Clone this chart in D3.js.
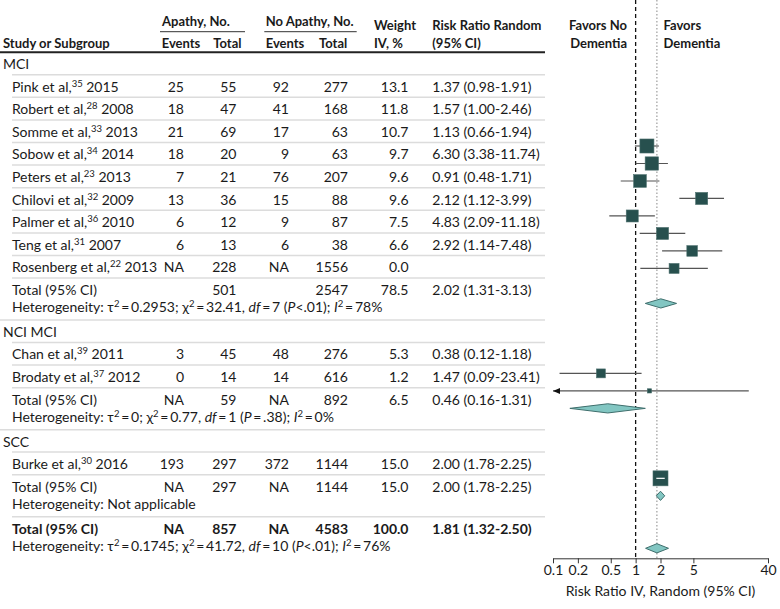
<!DOCTYPE html>
<html><head><meta charset="utf-8">
<script src="https://cdn.jsdelivr.net/npm/d3@7"></script>
<style>
body{margin:0;background:#fff}
svg{display:block}
text{font-family:Lato,"Open Sans",sans-serif;font-size:14px;fill:#1a1a1a}
.b{font-weight:bold}
.h{font-size:13px}
</style>
</head><body>
<svg id="c" width="780" height="609"></svg>
<script>
// ---------- DATA ----------
const studyNames = ["Pink et al,", "Robert et al,", "Somme et al,", "Sobow et al,", "Peters et al,", "Chilovi et al,", "Palmer et al,", "Teng et al,", "Rosenberg et al,", "Chan et al,", "Brodaty et al,", "Burke et al,"];
const studyRefs = ["35", "28", "33", "34", "23", "32", "36", "31", "22", "39", "37", "30"];
const studyYears = ["2015", "2008", "2013", "2014", "2013", "2009", "2010", "2007", "2013", "2011", "2012", "2016"];
const studyGroup = ["MCI", "MCI", "MCI", "MCI", "MCI", "MCI", "MCI", "MCI", "MCI", "NCI MCI", "NCI MCI", "SCC"];
const apathyEvents = ["25", "18", "21", "18", "7", "13", "6", "6", "NA", "3", "0", "193"];
const apathyTotal = ["55", "47", "69", "20", "21", "36", "12", "13", "228", "45", "14", "297"];
const noApathyEvents = ["92", "41", "17", "9", "76", "15", "9", "6", "NA", "48", "14", "372"];
const noApathyTotal = ["277", "168", "63", "63", "207", "88", "87", "38", "1556", "276", "616", "1144"];
const weights = [13.1, 11.8, 10.7, 9.7, 9.6, 9.6, 7.5, 6.6, 0.0, 5.3, 1.2, 15.0];
const riskRatio = [1.37, 1.57, 1.13, 6.30, 0.91, 2.12, 4.83, 2.92, null, 0.38, 1.47, 2.00];
const ciLow = [0.98, 1.00, 0.66, 3.38, 0.48, 1.12, 2.09, 1.14, null, 0.12, 0.09, 1.78];
const ciHigh = [1.91, 2.46, 1.94, 11.74, 1.71, 3.99, 11.18, 7.48, null, 1.18, 23.41, 2.25];

const groups = ["MCI", "NCI MCI", "SCC"];
const groupApathyEvents = ["", "NA", "NA"];
const groupApathyTotal = ["501", "59", "297"];
const groupNoApathyEvents = ["", "NA", "NA"];
const groupNoApathyTotal = ["2547", "892", "1144"];
const groupWeights = [78.5, 6.5, 15.0];
const groupRR = [2.02, 0.46, 2.00];
const groupLow = [1.31, 0.16, 1.78];
const groupHigh = [3.13, 1.31, 2.25];
const groupTau2 = ["0.2953", "0", null];
const groupChi2 = ["32.41", "0.77", null];
const groupDf = ["7", "1", null];
const groupP = ["<.01", "\u2009=\u2009.38", null];
const groupI2 = ["78%", "0%", null];

const overall = {apE: "NA", apT: "857", noE: "NA", noT: "4583", weight: 100.0, rr: 1.81, lo: 1.32, hi: 2.50,
                 tau2: "0.1745", chi2: "41.72", df: "10", p: "<.01", i2: "76%"};

const axisTicks = [0.1, 0.2, 0.5, 1, 2, 5, 40];

(function () {
// ---------- LAYOUT ----------
const svg = d3.select("#c");
const TABLE_RIGHT = 545;
const HEAD_RULE = 52.3, GROUP_H = 22.4, ROW_H = 22.6, TOTAL_H = 42;
const col = {study: 12, apE: 184, apT: 236.5, noE: 289, noT: 348, wt: 408.5, rr: 432.3};
const fmtRR = (r, l, h) => `${r.toFixed(2)} (${l.toFixed(2)}-${h.toFixed(2)})`;

const rows = [];
let curTop = HEAD_RULE, p = -2;
groups.forEach((g, gi) => {
  p += 1;
  rows.push({type: "group", gi, top: curTop, h: GROUP_H, p}); curTop += GROUP_H; p += 1;
  studyNames.forEach((n, i) => {
    if (studyGroup[i] !== g) return;
    rows.push({type: "study", i, top: curTop, h: ROW_H, p}); curTop += ROW_H; p += 1;
  });
  rows.push({type: "total", gi, top: curTop, h: TOTAL_H, p}); curTop += TOTAL_H; p += 2;
});
p += 1;
rows.push({type: "overall", top: curTop, h: TOTAL_H, p});

const x = d3.scaleLog().domain([0.1, 40]).range([553, 768]);
const y = d3.scaleLinear().domain([0, p]).range([146, 548.3]);
const boxSize = d3.scaleSqrt().domain([0, 15]).range([0, 15]);
const AXIS_Y = 558.3;

// ---------- HEADER ----------
const hdr = svg.append("g");
function t(g, xx, yy, s, anchor, bold) {
  return g.append("text").attr("x", xx).attr("y", yy).attr("text-anchor", anchor || "start")
    .classed("b", !!bold).text(s);
}
function th(xx, yy, s, anchor) { return t(hdr, xx, yy, s, anchor, true).classed("h", true); }
th(162, 26, "Apathy, No.");
th(265.7, 26, "No Apathy, No.");
hdr.append("line").attr("x1", 160).attr("x2", 245).attr("y1", 31.7).attr("y2", 31.7).attr("stroke", "#333");
hdr.append("line").attr("x1", 264.3).attr("x2", 356.7).attr("y1", 31.7).attr("y2", 31.7).attr("stroke", "#333");
th(3, 47.5, "Study or Subgroup");
th(161.7, 47.5, "Events");
th(213.3, 47.5, "Total");
th(265.7, 47.5, "Events");
th(319, 47.5, "Total");
th(374, 30, "Weight");
th(374, 47.5, "IV, %");
th(col.rr, 30, "Risk Ratio Random");
th(col.rr, 47.5, "(95% CI)");
th(627, 30, "Favors No", "end");
th(627, 47.5, "Dementia", "end");
th(663.5, 30, "Favors");
th(663.5, 47.5, "Dementia");
hdr.append("line").attr("x1", 0).attr("x2", TABLE_RIGHT).attr("y1", HEAD_RULE).attr("y2", HEAD_RULE)
  .attr("stroke", "#222").attr("stroke-width", 2);

// ---------- TABLE ----------
const tbl = svg.append("g");
function sep(yy, x0) {
  tbl.append("line").attr("x1", x0).attr("x2", TABLE_RIGHT).attr("y1", yy).attr("y2", yy)
    .attr("stroke", "#dcdcdc").attr("stroke-width", 1.5);
}
const SUP = 9.5;
function het(g, xx, yy, tau2, chi2, df, pv, i2) {
  const tx = g.append("text").attr("x", xx).attr("y", yy);
  if (tau2 === null) { tx.text("Heterogeneity: Not applicable"); return; }
  const eq = "\u2009=\u2009";
  tx.append("tspan").text("Heterogeneity: \u03c4");
  tx.append("tspan").attr("font-size", SUP).attr("dy", -5).text("2");
  tx.append("tspan").attr("dy", 5).text(`${eq}${tau2}; \u03c7`);
  tx.append("tspan").attr("font-size", SUP).attr("dy", -5).text("2");
  tx.append("tspan").attr("dy", 5).text(`${eq}${chi2}, `);
  tx.append("tspan").attr("font-style", "italic").text("df");
  tx.append("tspan").text(`${eq}${df} (`);
  tx.append("tspan").attr("font-style", "italic").text("P");
  tx.append("tspan").text(`${pv}); `);
  tx.append("tspan").attr("font-style", "italic").text("I");
  tx.append("tspan").attr("font-size", SUP).attr("dy", -5).text("2");
  tx.append("tspan").attr("dy", 5).text(`${eq}${i2}`);
}
function numRow(yy, v, bold) {
  t(tbl, col.apE, yy, v[0], "end", bold);
  t(tbl, col.apT, yy, v[1], "end", bold);
  t(tbl, col.noE, yy, v[2], "end", bold);
  t(tbl, col.noT, yy, v[3], "end", bold);
  t(tbl, col.wt, yy, v[4], "end", bold);
  if (v[5]) t(tbl, col.rr, yy, v[5], "start", bold);
}

rows.forEach(r => {
  const base = r.top + 16.8;
  if (r.type === "group") {
    if (r.gi > 0) sep(r.top, 0);
    t(tbl, 3, base, groups[r.gi]);
    sep(r.top + r.h, 12);
  } else if (r.type === "study") {
    const i = r.i;
    const tx = tbl.append("text").attr("x", col.study).attr("y", base);
    tx.append("tspan").text(studyNames[i]);
    tx.append("tspan").attr("font-size", SUP).attr("dy", -5).text(studyRefs[i]);
    tx.append("tspan").attr("dy", 5).text(" " + studyYears[i]);
    numRow(base, [apathyEvents[i], apathyTotal[i], noApathyEvents[i], noApathyTotal[i],
      weights[i].toFixed(1), riskRatio[i] === null ? "" : fmtRR(riskRatio[i], ciLow[i], ciHigh[i])]);
    sep(r.top + r.h, 12);
  } else if (r.type === "total") {
    const g = r.gi;
    t(tbl, col.study, base, "Total (95% CI)");
    numRow(base, [groupApathyEvents[g], groupApathyTotal[g], groupNoApathyEvents[g], groupNoApathyTotal[g],
      groupWeights[g].toFixed(1), fmtRR(groupRR[g], groupLow[g], groupHigh[g])]);
    het(tbl, col.study, base + 17.5, groupTau2[g], groupChi2[g], groupDf[g], groupP[g], groupI2[g]);
    if (g === groups.length - 1) sep(r.top + r.h, 12);
  } else {
    t(tbl, col.study, base, "Total (95% CI)", "start", true);
    numRow(base, [overall.apE, overall.apT, overall.noE, overall.noT, overall.weight.toFixed(1),
      fmtRR(overall.rr, overall.lo, overall.hi)], true);
    het(tbl, col.study, base + 17.5, overall.tau2, overall.chi2, overall.df, overall.p, overall.i2);
  }
});

// ---------- PLOT ----------
const plt = svg.append("g");
plt.append("line").attr("x1", x(1)).attr("x2", x(1)).attr("y1", 0).attr("y2", AXIS_Y)
  .attr("stroke", "#111").attr("stroke-width", 1.3).attr("stroke-dasharray", "4,3");
plt.append("line").attr("x1", x(overall.rr)).attr("x2", x(overall.rr)).attr("y1", 0).attr("y2", AXIS_Y)
  .attr("stroke", "#888").attr("stroke-width", 1).attr("stroke-dasharray", "1.5,2");

const SQ = "#27504e", DI = "#82c6c2", DI_STROKE = "#3f6f6d";
function diamond(yy, r, l, h) {
  const hh = 4.6;
  plt.append("path")
    .attr("d", `M${x(l)},${yy}L${x(r)},${yy - hh}L${x(h)},${yy}L${x(r)},${yy + hh}Z`)
    .attr("fill", DI).attr("stroke", DI_STROKE).attr("stroke-width", 1);
}
rows.forEach(r => {
  const yy = y(r.p);
  if (r.type === "study") {
    const i = r.i;
    if (riskRatio[i] === null) return;
    const lo = Math.max(ciLow[i], x.domain()[0]);
    const hi = Math.min(ciHigh[i], x.domain()[1]);
    const s = boxSize(weights[i]);
    plt.append("line").attr("x1", x(lo)).attr("x2", x(hi)).attr("y1", yy).attr("y2", yy)
      .attr("stroke", "#555").attr("stroke-width", 1.2);
    if (ciLow[i] < x.domain()[0]) {
      const ax = x(x.domain()[0]);
      plt.append("path").attr("d", `M${ax},${yy}L${ax + 7},${yy - 3}L${ax + 7},${yy + 3}Z`).attr("fill", "#111");
    }
    plt.append("rect").attr("x", x(riskRatio[i]) - s / 2).attr("y", yy - s / 2)
      .attr("width", s).attr("height", s).attr("fill", SQ).attr("stroke", "#4c6f6d").attr("stroke-width", 0.6);
    if (x(ciHigh[i]) - x(ciLow[i]) < s) {
      plt.append("line").attr("x1", x(ciLow[i])).attr("x2", x(ciHigh[i])).attr("y1", yy).attr("y2", yy)
        .attr("stroke", "#fff").attr("stroke-width", 1.2);
    }
  } else if (r.type === "total") {
    diamond(yy, groupRR[r.gi], groupLow[r.gi], groupHigh[r.gi]);
  } else if (r.type === "overall") {
    diamond(yy, overall.rr, overall.lo, overall.hi);
  }
});

const axis = d3.axisBottom(x).tickValues(axisTicks).tickFormat(d3.format("")).tickSize(5).tickSizeOuter(0);
const ag = plt.append("g").attr("transform", `translate(0,${AXIS_Y})`).call(axis);
ag.select(".domain").attr("stroke", "#333");
ag.selectAll(".tick line").attr("stroke", "#333");
ag.selectAll(".tick text").attr("font-family", "Lato, sans-serif").attr("font-size", 14).attr("fill", "#1a1a1a").attr("dy", "0.65em");
t(plt, x(Math.sqrt(0.1 * 40)), 596, "Risk Ratio IV, Random (95% CI)", "middle");
})();
</script>
</body></html>
